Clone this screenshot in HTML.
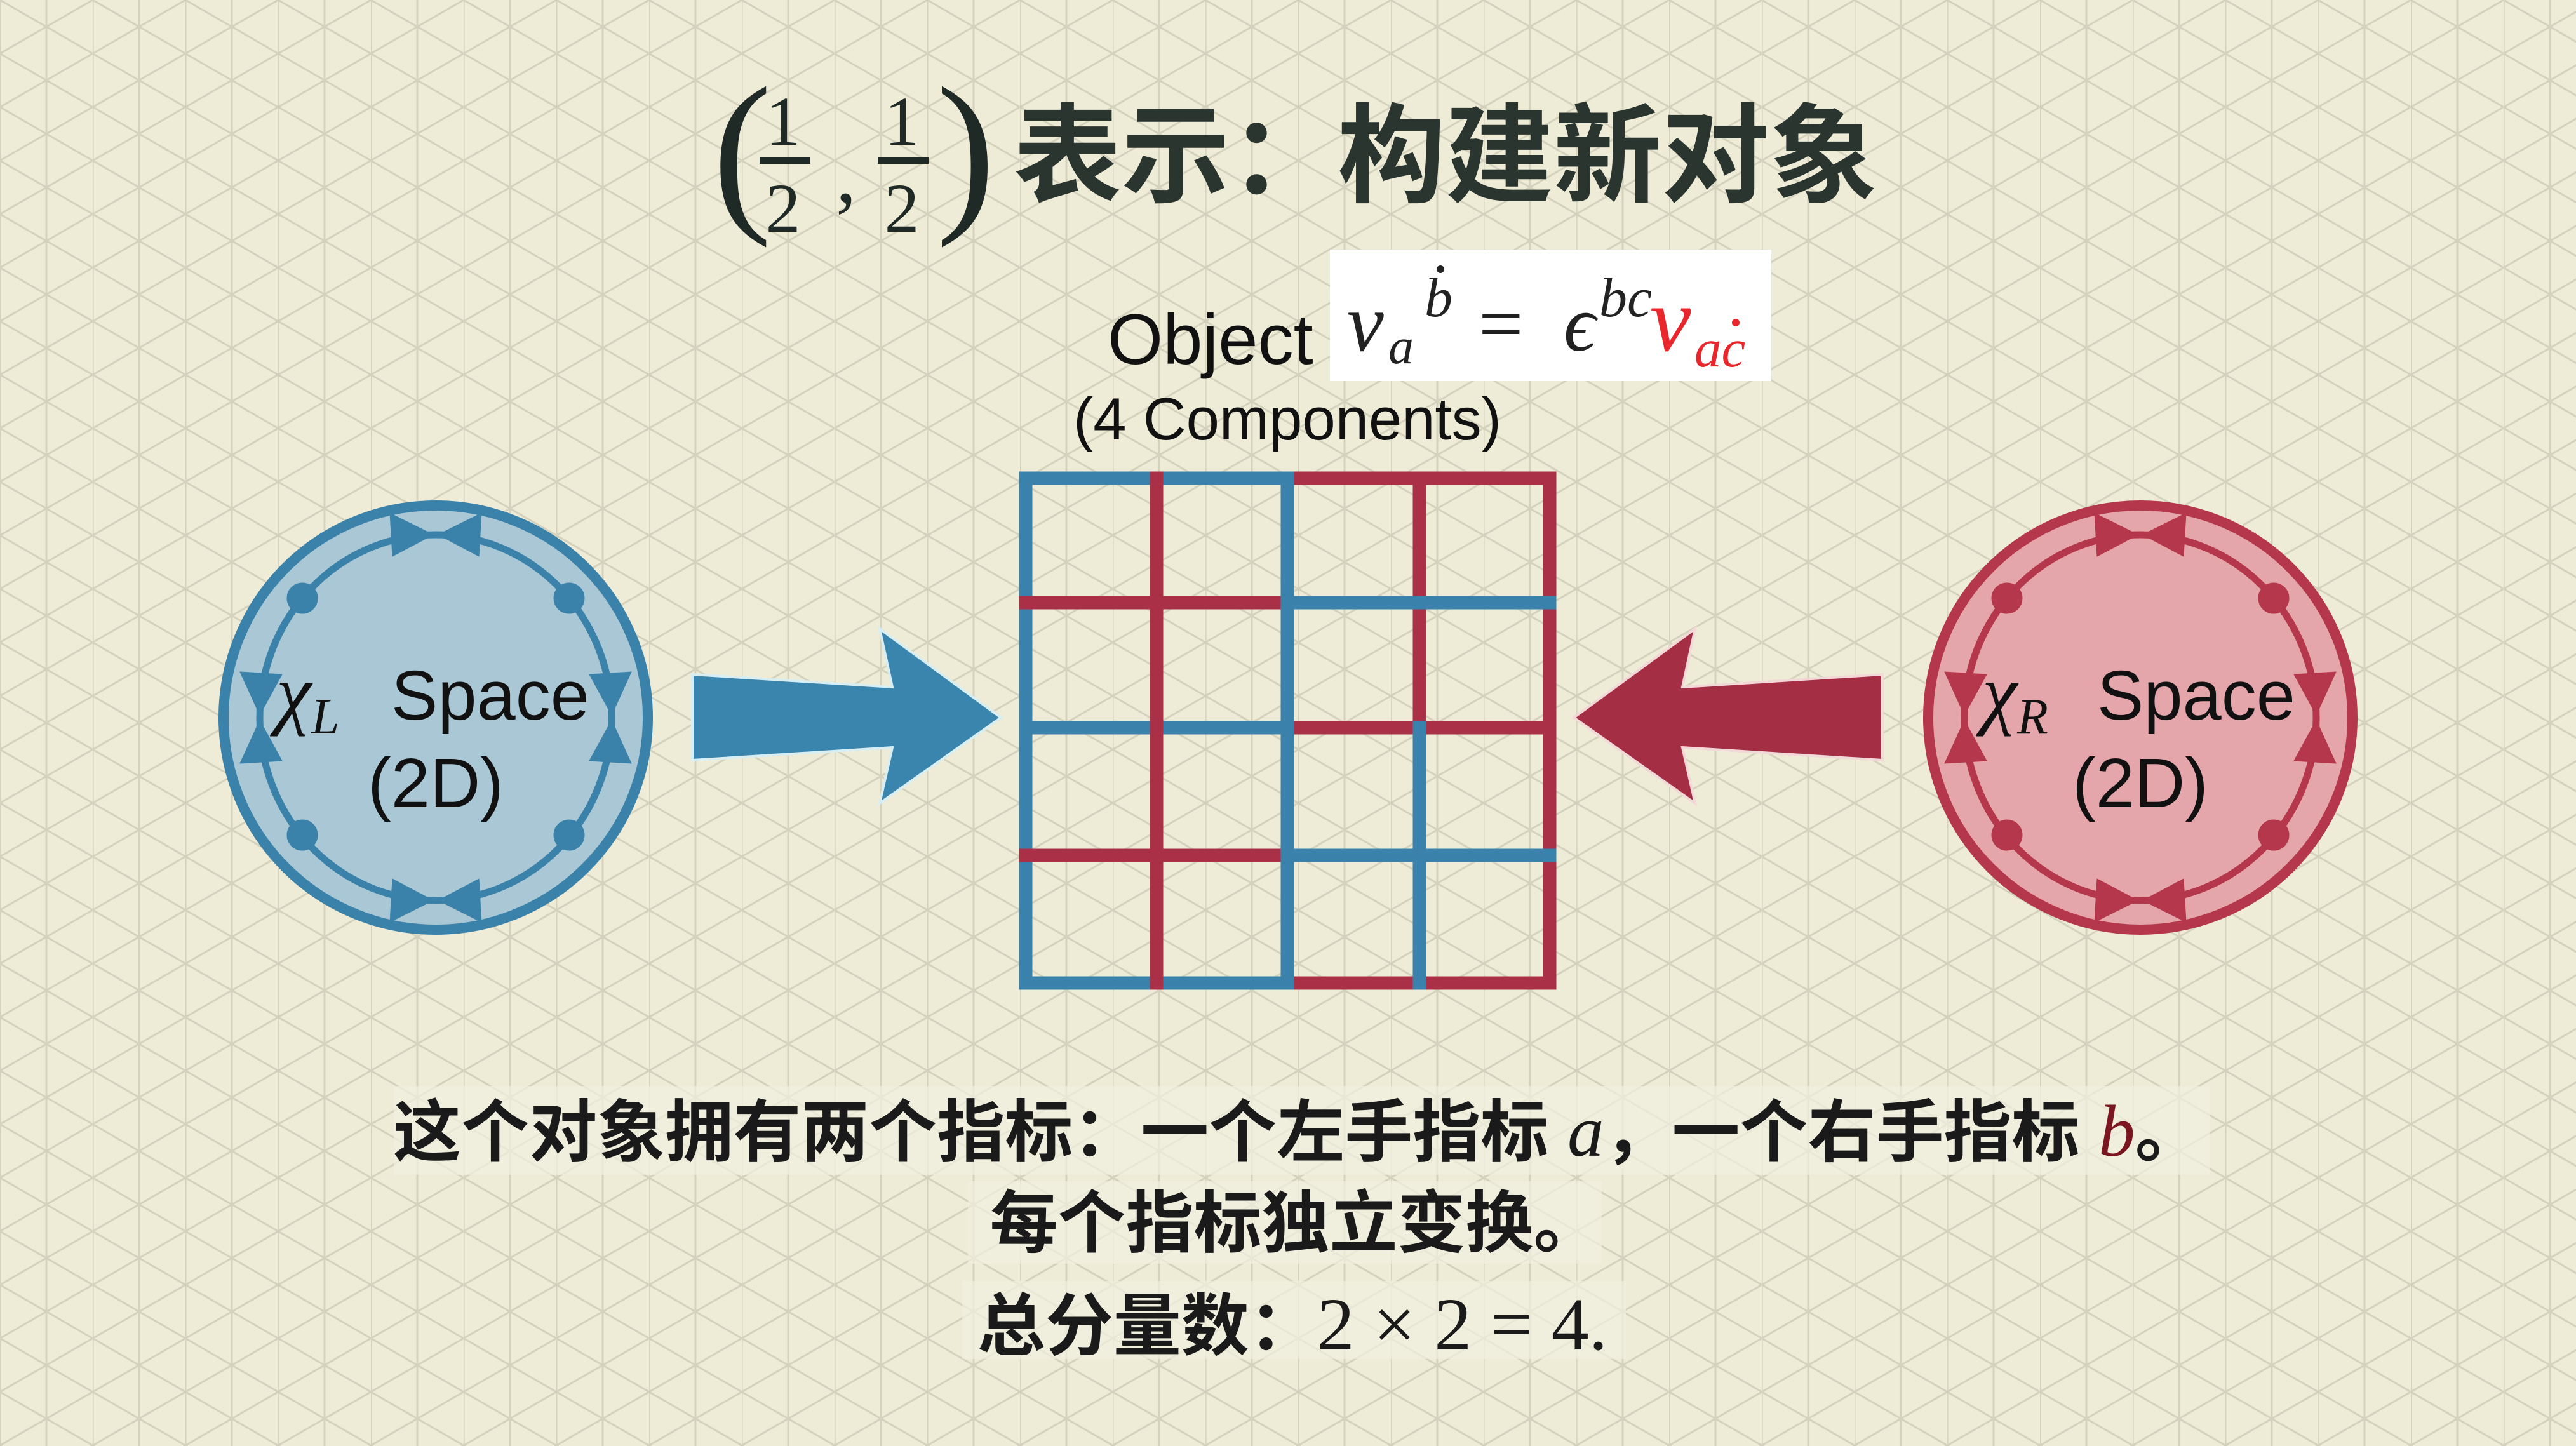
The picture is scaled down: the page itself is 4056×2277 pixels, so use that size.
<!DOCTYPE html>
<html><head><meta charset="utf-8"><style>
html,body{margin:0;padding:0;background:#eeecd6;}
svg{display:block;}
.cjk{font-family:"Liberation Sans","Noto Sans CJK SC",sans-serif;}
.serif{font-family:"Liberation Serif","DejaVu Serif",serif;}
</style></head><body>
<svg width="4056" height="2277" viewBox="0 0 4056 2277" xmlns="http://www.w3.org/2000/svg">
<defs>
<pattern id="bg" x="0" y="0" width="146" height="168.6" patternUnits="userSpaceOnUse">
<rect width="146" height="168.6" fill="#eeecd7"/>
<g stroke="#d4d2bd" stroke-width="3" fill="none">
<line x1="0" y1="0" x2="0" y2="168.6"/><line x1="73" y1="0" x2="73" y2="168.6"/>
<line x1="0" y1="0" x2="146" y2="84.3"/><line x1="0" y1="84.3" x2="146" y2="168.6"/><line x1="0" y1="-84.3" x2="146" y2="0"/>
<line x1="0" y1="84.3" x2="146" y2="0"/><line x1="0" y1="168.6" x2="146" y2="84.3"/><line x1="0" y1="252.9" x2="146" y2="168.6"/>
</g>
</pattern>
<g id="ring">
<ellipse cx="0" cy="0" rx="277" ry="288" fill="none" stroke-width="11"/>
<circle cx="-210" cy="-188" r="24"/><circle cx="210" cy="-188" r="24"/>
<circle cx="-210" cy="185" r="24"/><circle cx="210" cy="185" r="24"/>
<polygon points="-4,-288 -72,-322 -68,-254"/><polygon points="4,-288 72,-322 68,-254"/>
<polygon points="-4,288 -72,322 -68,254"/><polygon points="4,288 72,322 68,254"/>
<polygon points="-277,-4 -308,-72 -242,-68"/><polygon points="-277,4 -308,72 -242,68"/>
<polygon points="277,-4 308,-72 242,-68"/><polygon points="277,4 308,72 242,68"/>
</g>
</defs>
<rect width="4056" height="2277" fill="url(#bg)"/>

<!-- Title -->
<g class="serif" fill="#1f2a26">
<text x="1122" y="330" font-size="280">(</text>
<text x="1233" y="228" font-size="110" text-anchor="middle">1</text>
<rect x="1196" y="248" width="80" height="10"/>
<text x="1233" y="365" font-size="110" text-anchor="middle">2</text>
<text x="1316" y="318" font-size="130">,</text>
<text x="1420" y="228" font-size="110" text-anchor="middle">1</text>
<rect x="1382" y="248" width="80" height="10"/>
<text x="1420" y="365" font-size="110" text-anchor="middle">2</text>
<text x="1474" y="330" font-size="280">)</text>
</g>
<text x="1596" y="305" class="cjk" font-size="170" font-weight="bold" fill="#2a3530">表示：构建新对象</text>

<!-- Object label -->
<text x="1744" y="573" font-family="Liberation Sans, sans-serif" font-size="112" fill="#111">Object</text>
<rect x="2094" y="393" width="695" height="207" fill="#ffffff"/>
<g class="serif" font-style="italic" fill="#222">
<text x="2121" y="552" font-size="130">v</text>
<text x="2186" y="572" font-size="80">a</text>
<text x="2243" y="498" font-size="88">b</text>
<circle cx="2268" cy="424" r="6" fill="#222"/>
<text x="2328" y="552" font-size="125" font-style="normal">=</text>
<text x="2462" y="552" font-size="125">ϵ</text>
<text x="2518" y="498" font-size="88">bc</text>
<text x="2598" y="552" font-size="145" fill="#e8262c">v</text>
<text x="2668" y="577" font-size="85" fill="#e8262c">ac</text>
<circle cx="2733" cy="508" r="6" fill="#e8262c"/>
</g>
<text x="1690" y="692" font-family="Liberation Sans, sans-serif" font-size="94" fill="#111">(4 Components)</text>

<!-- Grid -->
<g stroke-width="21" stroke-linecap="square" fill="none">
<line x1="1615" y1="753" x2="2027" y2="753" stroke="#3a82ab"/>
<line x1="1615" y1="753" x2="1615" y2="1548" stroke="#3a82ab"/>
<line x1="1615" y1="1548" x2="2027" y2="1548" stroke="#3a82ab"/>
<line x1="1615" y1="1146" x2="2027" y2="1146" stroke="#3a82ab"/>
<line x1="1615" y1="949" x2="2020" y2="949" stroke="#a93047"/>
<line x1="1615" y1="1347" x2="2020" y2="1347" stroke="#a93047"/>
<line x1="1821" y1="753" x2="1821" y2="1548" stroke="#a93047"/>
<line x1="2034" y1="753" x2="2440" y2="753" stroke="#a93047"/>
<line x1="2440" y1="753" x2="2440" y2="1548" stroke="#a93047"/>
<line x1="2034" y1="1548" x2="2440" y2="1548" stroke="#a93047"/>
<line x1="2034" y1="1146" x2="2440" y2="1146" stroke="#a93047"/>
<line x1="2235" y1="753" x2="2235" y2="1140" stroke="#a93047"/>
<line x1="2235" y1="1146" x2="2235" y2="1548" stroke="#3a82ab"/>
<line x1="2034" y1="949" x2="2440" y2="949" stroke="#3a82ab"/>
<line x1="2034" y1="1347" x2="2440" y2="1347" stroke="#3a82ab"/>
<line x1="2027" y1="753" x2="2027" y2="1548" stroke="#3a82ab"/>
</g>

<!-- Arrows -->
<polygon points="1090,1062 1405,1082 1385,990 1576,1130 1385,1265 1405,1177 1090,1197" fill="#3a85ad" stroke="#d8eef2" stroke-width="4"/>
<polygon points="2964,1062 2649,1082 2669,990 2478,1130 2669,1265 2649,1177 2964,1197" fill="#a42f45" stroke="#f3d8d8" stroke-width="4"/>

<!-- Left circle -->
<g transform="translate(686,1130)">
<circle cx="0" cy="0" r="334" fill="#a9c7d4" stroke="#3b82aa" stroke-width="16"/>
<use href="#ring" fill="#3b82aa" stroke="#3b82aa"/>
<text x="-251" y="3" class="serif" font-style="italic" font-size="125" fill="#111">χ<tspan font-size="80" dy="22">L</tspan></text>
<text x="-70" y="3" font-family="Liberation Sans, sans-serif" font-size="110" fill="#111">Space</text>
<text x="0" y="141" text-anchor="middle" font-family="Liberation Sans, sans-serif" font-size="110" fill="#111">(2D)</text>
</g>

<!-- Right circle -->
<g transform="translate(3370,1130)">
<circle cx="0" cy="0" r="334" fill="#e4a6aa" stroke="#b4374b" stroke-width="16"/>
<use href="#ring" fill="#b4374b" stroke="#b4374b"/>
<text x="-249" y="3" class="serif" font-style="italic" font-size="125" fill="#111">χ<tspan font-size="80" dy="22">R</tspan></text>
<text x="-68" y="3" font-family="Liberation Sans, sans-serif" font-size="110" fill="#111">Space</text>
<text x="0" y="141" text-anchor="middle" font-family="Liberation Sans, sans-serif" font-size="110" fill="#111">(2D)</text>
</g>

<!-- Bottom text -->
<rect x="620" y="1710" width="2860" height="140" fill="#f1f0e0" opacity="0.7"/>
<rect x="1524" y="1860" width="998" height="130" fill="#f1f0e0" opacity="0.7"/>
<rect x="1515" y="2017" width="1045" height="123" fill="#f1f0e0" opacity="0.7"/>
<text x="2044" y="1820" text-anchor="middle" class="cjk" font-size="107" font-weight="bold" fill="#1a1a1a">这个对象拥有两个指标：一个左手指标 <tspan class="serif" font-style="italic" font-weight="normal" font-size="115">a</tspan>，一个右手指标 <tspan class="serif" font-style="italic" font-weight="normal" fill="#7a1620" font-size="115">b</tspan>。</text>
<text x="2040" y="1963" text-anchor="middle" class="cjk" font-size="107" font-weight="bold" fill="#1a1a1a">每个指标独立变换。</text>
<text x="2035" y="2125" text-anchor="middle" class="cjk" font-size="107" font-weight="bold" fill="#1a1a1a">总分量数：<tspan class="serif" font-weight="normal" font-size="118">2 × 2 = 4.</tspan></text>
</svg>
</body></html>
